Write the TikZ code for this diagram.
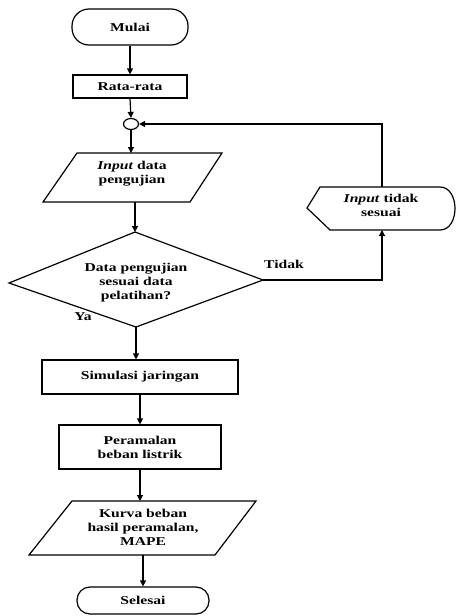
\documentclass[tikz,border=0pt]{standalone}
\usepackage{fontspec}
\setmainfont{Liberation Serif}[FakeStretch=1.3]
\usetikzlibrary{shapes.geometric,arrows.meta,calc}
\begin{document}
\begin{tikzpicture}[x=1pt,y=-1pt,
  lw/.style={line width=1.2pt},
  txt/.style={inner sep=0pt, align=center, font=\fontsize{12}{14}\selectfont\bfseries},
  box/.style={txt, draw, lw},
  term/.style={box, rounded corners=17pt},
  flow/.style={lw, -{Triangle[length=6pt,width=6pt]}}]
\useasboundingbox (0,0) rectangle (456,616);

% start
\node[term, minimum width=116pt, minimum height=36pt] (mulai) at (130,27) {Mulai};
\node[box, minimum width=114pt, minimum height=23pt] (rata) at (130,86.5) {Rata-rata};
\node[draw, lw, ellipse, minimum width=15pt, minimum height=11pt, inner sep=0pt] (conn) at (131,124) {};

% input data pengujian (parallelogram)
\draw[lw] (77,153) -- (222,153) -- (190,202) -- (43,202) -- cycle;
\coordinate (p1t) at (131,153);
\coordinate (p1b) at (135,202);
\node[txt] (p1) at (132,174) {\textit{Input} data\\pengujian};

% decision
\coordinate (dn) at (135,232);
\coordinate (de) at (263,280);
\coordinate (ds) at (136,327);
\coordinate (dw) at (9,283);
\draw[lw] (dn) -- (de) -- (ds) -- (dw) -- cycle;
\node[txt] (dec) at (136,283) {Data pengujian\\sesuai data\\pelatihan?};

% display: input tidak sesuai
\draw[lw] (307,208) -- (320,187) -- (440,187) to[out=0,in=90] (455,208.5) to[out=-90,in=0] (440,230) -- (330,230) -- cycle;
\coordinate (dt) at (382,187);
\coordinate (db) at (382,230);
\node[txt] (disp) at (381,205) {\textit{Input} tidak\\sesuai};

% process boxes
\node[box, minimum width=196pt, minimum height=34pt] (sim) at (140,377) {Simulasi jaringan};
\node[box, minimum width=162pt, minimum height=44pt] (per) at (140,447) {Peramalan\\beban listrik};

% output parallelogram
\draw[lw] (72,501) -- (256,501) -- (215,555) -- (29,555) -- cycle;
\coordinate (p2t) at (140,501);
\coordinate (p2b) at (143,555);
\node[txt] (p2) at (143,527) {Kurva beban\\hasil peramalan,\\MAPE};

\node[term, minimum width=132pt, minimum height=27pt, rounded corners=13pt] (selesai) at (143,600.5) {Selesai};

% labels
\node[txt] (tidak) at (284,264) {Tidak};
\node[txt] (ya) at (83,317) {Ya};

% connectors
\draw[flow] (mulai.south) -- (rata.north);
\draw[flow] (rata.south) -- (conn.north);
\draw[flow] (conn.south) -- (p1t);
\draw[flow] (p1b) -- (dn);
\draw[flow] (de) -| (db);
\draw[flow] (dt) |- (conn.east);
\draw[flow] (ds) -- (ds |- sim.north);
\draw[flow] (sim.south) -- (per.north);
\draw[flow] (per.south) -- (p2t);
\draw[flow] (p2b) -- (selesai.north);
\end{tikzpicture}
\end{document}
